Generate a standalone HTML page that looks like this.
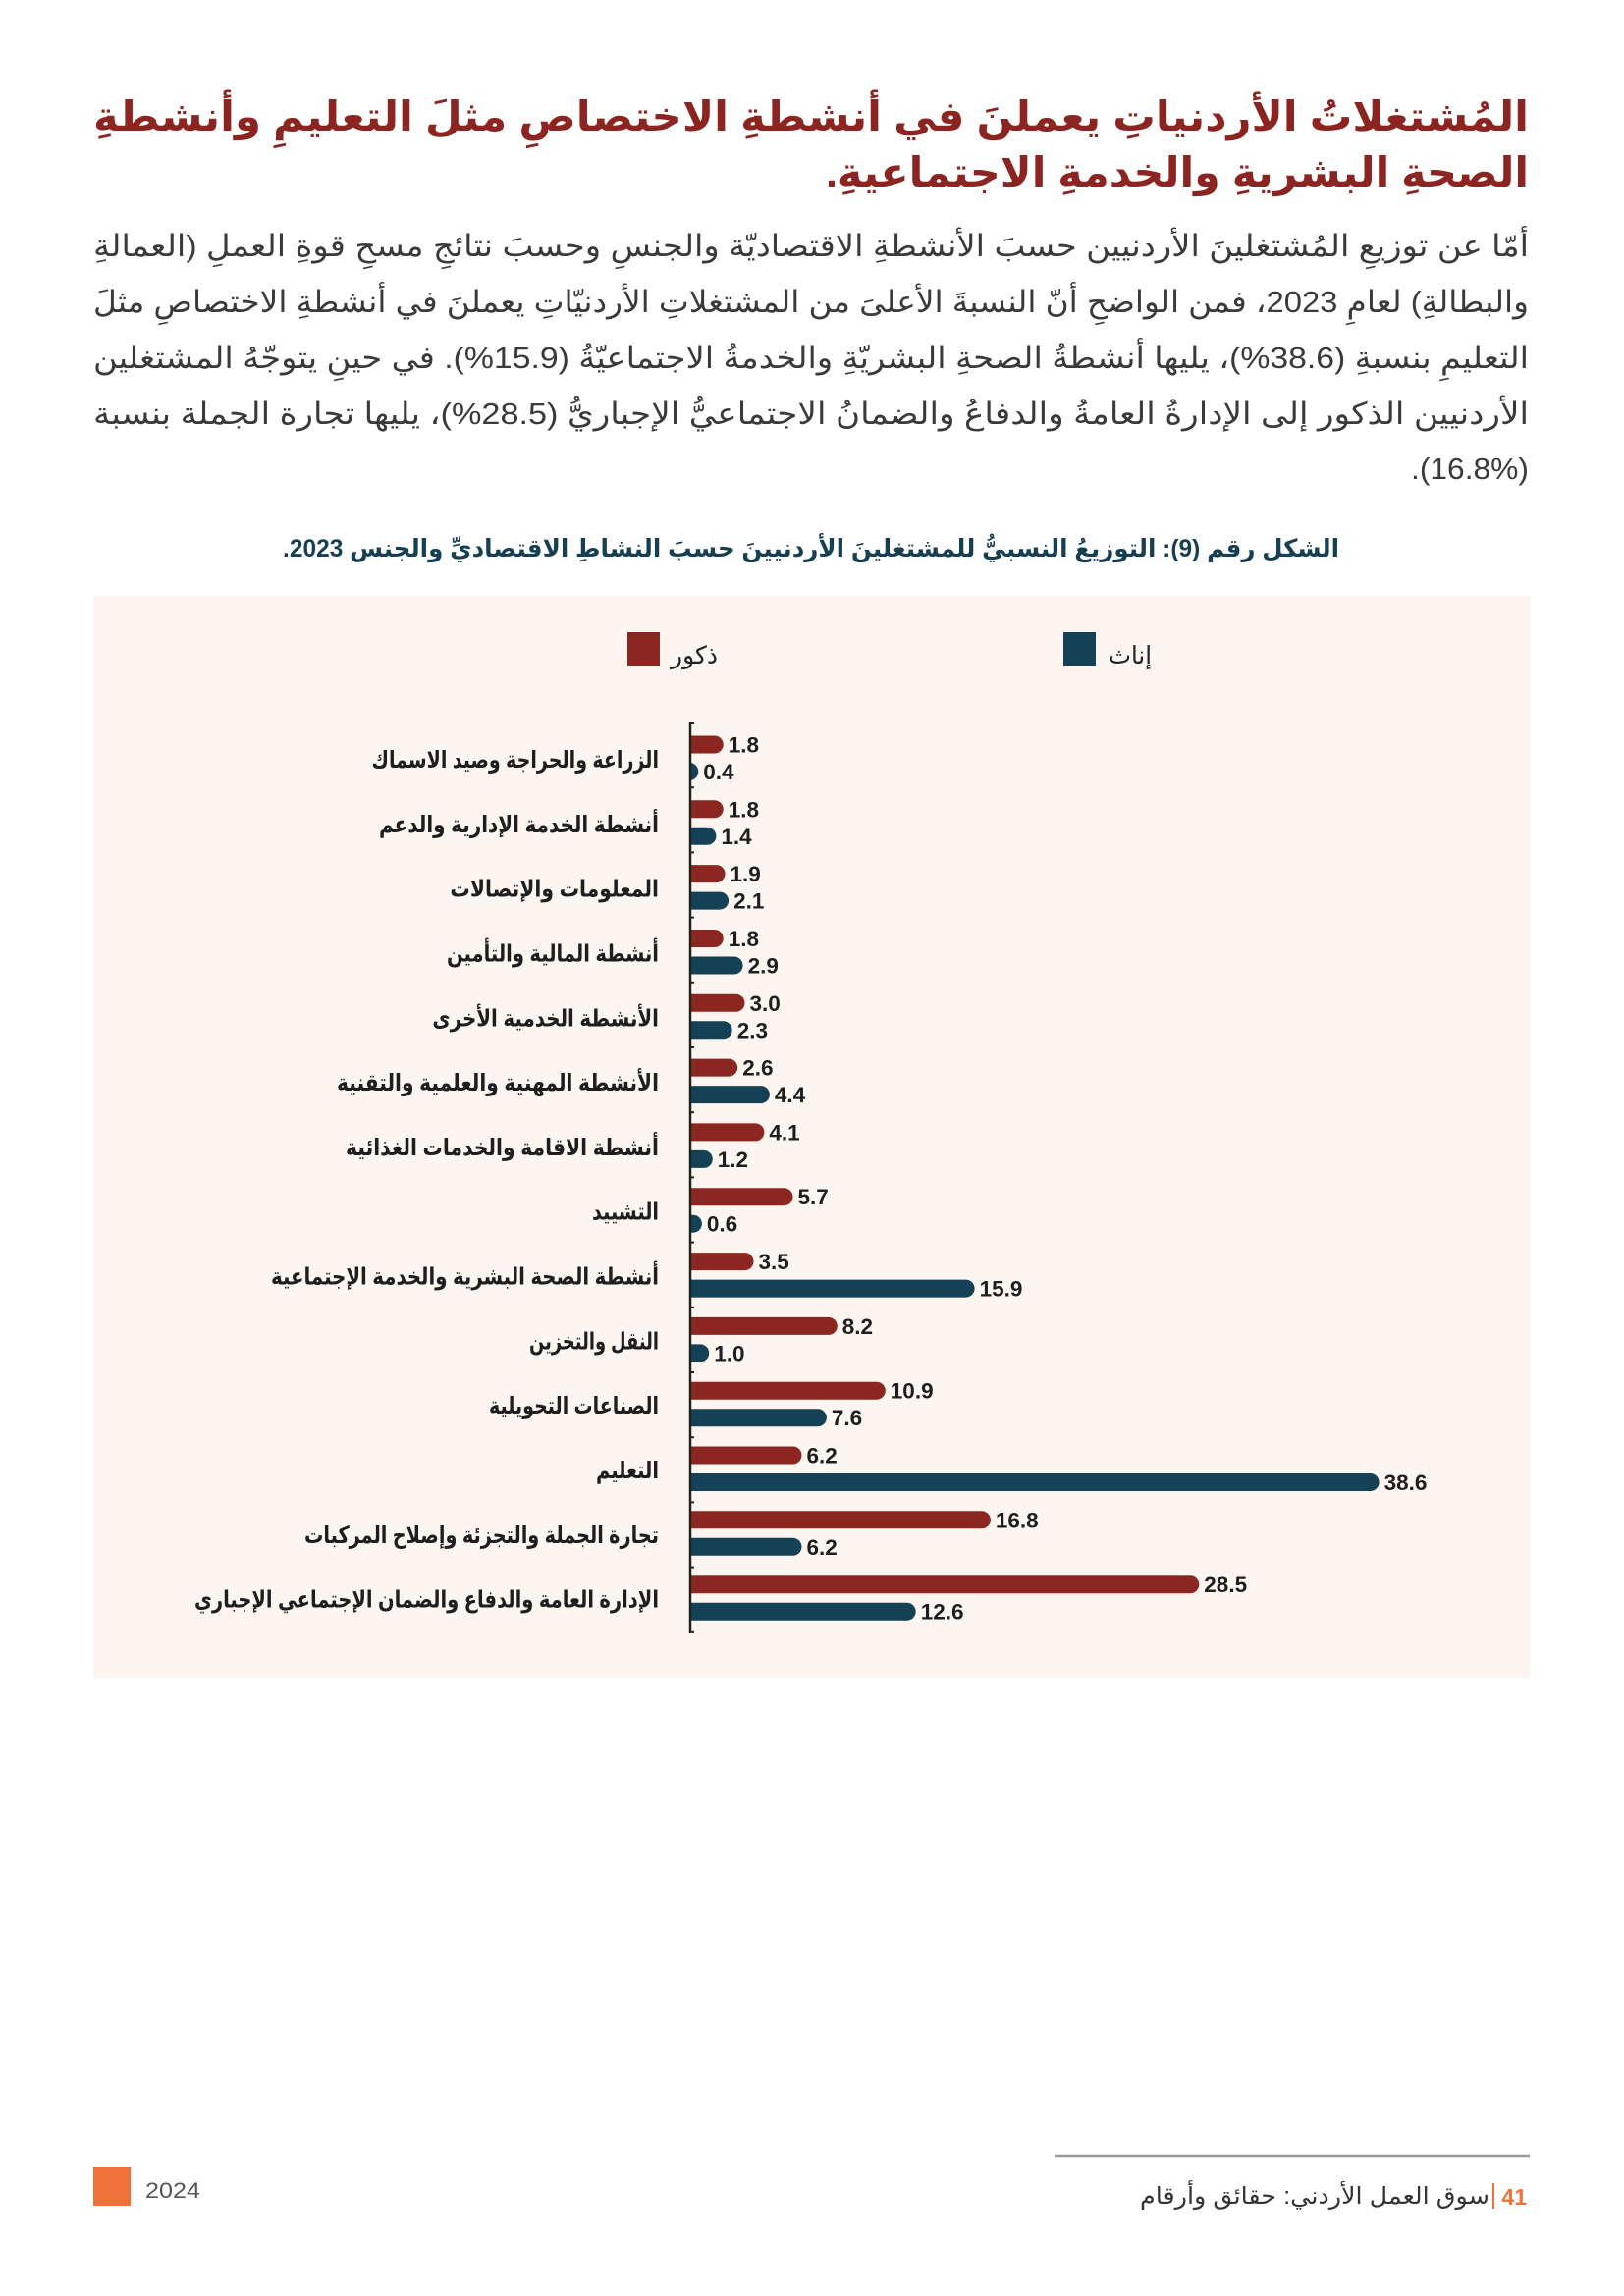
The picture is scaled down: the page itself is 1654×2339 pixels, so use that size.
<!DOCTYPE html>
<html lang="ar">
<head>
<meta charset="utf-8">
<style>
html,body{margin:0;padding:0;background:#ffffff;}
svg{display:block;}
</style>
</head>
<body>
<svg width="1654" height="2339" viewBox="0 0 1654 2339" xmlns="http://www.w3.org/2000/svg">
<defs>
<clipPath id="cl"><rect x="704" y="0" width="950" height="2339"/></clipPath>
</defs>
<rect x="0" y="0" width="1654" height="2339" fill="#ffffff"/>

<!-- Title -->
<g font-family="Liberation Sans, DejaVu Sans, sans-serif" font-weight="bold" font-size="42" fill="#8C2421" direction="rtl" text-anchor="middle">
<text x="826" y="133" textLength="1462" lengthAdjust="spacingAndGlyphs">المُشتغلاتُ الأردنياتِ يعملنَ في أنشطةِ الاختصاصِ مثلَ التعليمِ وأنشطةِ</text>
<text x="1199" y="190" textLength="716" lengthAdjust="spacingAndGlyphs">الصحةِ البشريةِ والخدمةِ الاجتماعيةِ.</text>
</g>

<!-- Paragraph -->
<g font-family="Liberation Sans, DejaVu Sans, sans-serif" font-size="31" fill="#3a3a3a" direction="rtl" text-anchor="middle">
<text x="826" y="261" textLength="1462" lengthAdjust="spacingAndGlyphs">أمّا عن توزيعِ المُشتغلينَ الأردنيين حسبَ الأنشطةِ الاقتصاديّة والجنسِ وحسبَ نتائجِ مسحِ قوةِ العملِ (العمالةِ</text>
<text x="826" y="318" textLength="1462" lengthAdjust="spacingAndGlyphs">والبطالةِ) لعامِ 2023، فمن الواضحِ أنّ النسبةَ الأعلىَ من المشتغلاتِ الأردنيّاتِ يعملنَ في أنشطةِ الاختصاصِ مثلَ</text>
<text x="826" y="375" textLength="1462" lengthAdjust="spacingAndGlyphs">التعليمِ بنسبةِ (38.6%)، يليها أنشطةُ الصحةِ البشريّةِ والخدمةُ الاجتماعيّةُ (15.9%). في حينِ يتوجّهُ المشتغلين</text>
<text x="826" y="432" textLength="1462" lengthAdjust="spacingAndGlyphs">الأردنيين الذكور إلى الإدارةُ العامةُ والدفاعُ والضمانُ الاجتماعيُّ الإجباريُّ (28.5%)، يليها تجارة الجملة بنسبة</text>
<text x="1497" y="488" textLength="120" lengthAdjust="spacingAndGlyphs">(16.8%).</text>
</g>

<!-- Caption -->
<text x="826" y="567" font-family="Liberation Sans, DejaVu Sans, sans-serif" font-weight="bold" font-size="25" fill="#173F52" direction="rtl" text-anchor="middle" textLength="1076" lengthAdjust="spacingAndGlyphs">الشكل رقم (9): التوزيعُ النسبيُّ للمشتغلينَ الأردنيينَ حسبَ النشاطِ الاقتصاديِّ والجنس 2023.</text>

<!-- Panel -->
<rect x="95" y="607" width="1464" height="1102" fill="#FCF5F0"/>

<!-- Legend -->
<rect x="639" y="644" width="33" height="34" fill="#8C2621"/>
<text x="707" y="676" font-family="Liberation Sans, DejaVu Sans, sans-serif" font-size="25" fill="#222" direction="rtl" text-anchor="middle" textLength="48" lengthAdjust="spacingAndGlyphs">ذكور</text>
<rect x="1083" y="644" width="33" height="34" fill="#154157"/>
<text x="1151" y="676" font-family="Liberation Sans, DejaVu Sans, sans-serif" font-size="25" fill="#222" direction="rtl" text-anchor="middle" textLength="44" lengthAdjust="spacingAndGlyphs">إناث</text>

<!-- Category labels -->
<g font-family="Liberation Sans, DejaVu Sans, sans-serif" font-weight="bold" font-size="24" fill="#1e1e1e" direction="rtl" text-anchor="middle">
<text x="524.75" y="782" textLength="292.5" lengthAdjust="spacingAndGlyphs">الزراعة والحراجة وصيد الاسماك</text>
<text x="528.5" y="847.8" textLength="285" lengthAdjust="spacingAndGlyphs">أنشطة الخدمة الإدارية والدعم</text>
<text x="564.7" y="913.6" textLength="212.6" lengthAdjust="spacingAndGlyphs">المعلومات والإتصالات</text>
<text x="563" y="979.5" textLength="216" lengthAdjust="spacingAndGlyphs">أنشطة المالية والتأمين</text>
<text x="555.7" y="1045.3" textLength="230.6" lengthAdjust="spacingAndGlyphs">الأنشطة الخدمية الأخرى</text>
<text x="507" y="1111.1" textLength="328" lengthAdjust="spacingAndGlyphs">الأنشطة المهنية والعلمية والتقنية</text>
<text x="511.5" y="1176.9" textLength="319" lengthAdjust="spacingAndGlyphs">أنشطة الاقامة والخدمات الغذائية</text>
<text x="637" y="1242.7" textLength="68" lengthAdjust="spacingAndGlyphs">التشييد</text>
<text x="473.5" y="1308.6" textLength="395" lengthAdjust="spacingAndGlyphs">أنشطة الصحة البشرية والخدمة الإجتماعية</text>
<text x="605" y="1374.4" textLength="132" lengthAdjust="spacingAndGlyphs">النقل والتخزين</text>
<text x="584.5" y="1440.2" textLength="173" lengthAdjust="spacingAndGlyphs">الصناعات التحويلية</text>
<text x="639" y="1506" textLength="64" lengthAdjust="spacingAndGlyphs">التعليم</text>
<text x="490.5" y="1571.8" textLength="361" lengthAdjust="spacingAndGlyphs">تجارة الجملة والتجزئة وإصلاح المركبات</text>
<text x="434.5" y="1637.7" textLength="473" lengthAdjust="spacingAndGlyphs">الإدارة العامة والدفاع والضمان الإجتماعي الإجباري</text>
</g>

<!-- Bars -->
<g clip-path="url(#cl)">
<g fill="#8C2621">
<rect x="684" y="749.5" width="52.7" height="18" rx="9"/>
<rect x="684" y="815.3" width="52.7" height="18" rx="9"/>
<rect x="684" y="881.1" width="54.5" height="18" rx="9"/>
<rect x="684" y="947.0" width="52.7" height="18" rx="9"/>
<rect x="684" y="1012.8" width="74.5" height="18" rx="9"/>
<rect x="684" y="1078.6" width="67.2" height="18" rx="9"/>
<rect x="684" y="1144.4" width="94.4" height="18" rx="9"/>
<rect x="684" y="1210.2" width="123.5" height="18" rx="9"/>
<rect x="684" y="1276.1" width="83.5" height="18" rx="9"/>
<rect x="684" y="1341.9" width="168.8" height="18" rx="9"/>
<rect x="684" y="1407.7" width="217.8" height="18" rx="9"/>
<rect x="684" y="1473.5" width="132.5" height="18" rx="9"/>
<rect x="684" y="1539.3" width="324.9" height="18" rx="9"/>
<rect x="684" y="1605.2" width="537.3" height="18" rx="9"/>
</g>
<g fill="#154157">
<rect x="684" y="777" width="27.3" height="18" rx="9"/>
<rect x="684" y="842.8" width="45.4" height="18" rx="9"/>
<rect x="684" y="908.6" width="58.1" height="18" rx="9"/>
<rect x="684" y="974.5" width="72.6" height="18" rx="9"/>
<rect x="684" y="1040.3" width="61.7" height="18" rx="9"/>
<rect x="684" y="1106.1" width="99.9" height="18" rx="9"/>
<rect x="684" y="1171.9" width="41.8" height="18" rx="9"/>
<rect x="684" y="1237.7" width="30.9" height="18" rx="9"/>
<rect x="684" y="1303.6" width="308.6" height="18" rx="9"/>
<rect x="684" y="1369.4" width="38.2" height="18" rx="9"/>
<rect x="684" y="1435.2" width="157.9" height="18" rx="9"/>
<rect x="684" y="1501.0" width="720.6" height="18" rx="9"/>
<rect x="684" y="1566.8" width="132.5" height="18" rx="9"/>
<rect x="684" y="1632.7" width="248.7" height="18" rx="9"/>
</g>
</g>

<!-- Axis -->
<g stroke="#222" stroke-width="2.5">
<line x1="703" y1="736" x2="703" y2="1664"/>
</g>
<g stroke="#222" stroke-width="2">
<line x1="703" y1="737" x2="707" y2="737"/>
<line x1="703" y1="802.2" x2="707" y2="802.2"/>
<line x1="703" y1="868.4" x2="707" y2="868.4"/>
<line x1="703" y1="934.6" x2="707" y2="934.6"/>
<line x1="703" y1="1000.8" x2="707" y2="1000.8"/>
<line x1="703" y1="1067" x2="707" y2="1067"/>
<line x1="703" y1="1133.2" x2="707" y2="1133.2"/>
<line x1="703" y1="1199.4" x2="707" y2="1199.4"/>
<line x1="703" y1="1265.6" x2="707" y2="1265.6"/>
<line x1="703" y1="1331.8" x2="707" y2="1331.8"/>
<line x1="703" y1="1398" x2="707" y2="1398"/>
<line x1="703" y1="1464.2" x2="707" y2="1464.2"/>
<line x1="703" y1="1530.4" x2="707" y2="1530.4"/>
<line x1="703" y1="1596.6" x2="707" y2="1596.6"/>
<line x1="703" y1="1662.8" x2="707" y2="1662.8"/>
</g>

<!-- Value labels -->
<g font-family="Liberation Sans, DejaVu Sans, sans-serif" font-weight="bold" font-size="22.5" fill="#1e1e1e">
<text x="741.7" y="766.5">1.8</text>
<text x="716.3" y="794">0.4</text>
<text x="741.7" y="832.3">1.8</text>
<text x="734.4" y="859.8">1.4</text>
<text x="743.5" y="898.1">1.9</text>
<text x="747.1" y="925.6">2.1</text>
<text x="741.7" y="964">1.8</text>
<text x="761.6" y="991.5">2.9</text>
<text x="763.5" y="1029.8">3.0</text>
<text x="750.7" y="1057.3">2.3</text>
<text x="756.2" y="1095.6">2.6</text>
<text x="788.9" y="1123.1">4.4</text>
<text x="783.4" y="1161.4">4.1</text>
<text x="730.8" y="1188.9">1.2</text>
<text x="812.5" y="1227.2">5.7</text>
<text x="719.9" y="1254.7">0.6</text>
<text x="772.5" y="1293.1">3.5</text>
<text x="997.6" y="1320.6">15.9</text>
<text x="857.8" y="1358.9">8.2</text>
<text x="727.2" y="1386.4">1.0</text>
<text x="906.8" y="1424.7">10.9</text>
<text x="846.9" y="1452.2">7.6</text>
<text x="821.5" y="1490.5">6.2</text>
<text x="1409.6" y="1518">38.6</text>
<text x="1013.9" y="1556.3">16.8</text>
<text x="821.5" y="1583.8">6.2</text>
<text x="1226.3" y="1622.2">28.5</text>
<text x="937.7" y="1649.7">12.6</text>
</g>

<!-- Footer -->
<line x1="1074" y1="2196" x2="1558" y2="2196" stroke="#9a9a9a" stroke-width="2.5"/>
<rect x="95" y="2208" width="38" height="39" fill="#F0703A"/>
<text x="148" y="2239" font-family="Liberation Sans, DejaVu Sans, sans-serif" font-size="22" fill="#555" textLength="56" lengthAdjust="spacingAndGlyphs">2024</text>
<text x="1555" y="2246" font-family="Liberation Sans, DejaVu Sans, sans-serif" font-weight="bold" font-size="23" fill="#F0703A" text-anchor="end">41</text>
<line x1="1521" y1="2224" x2="1521" y2="2250" stroke="#F0703A" stroke-width="2"/>
<text x="1339" y="2245" font-family="Liberation Sans, DejaVu Sans, sans-serif" font-size="24" fill="#333" direction="rtl" text-anchor="middle" textLength="356" lengthAdjust="spacingAndGlyphs">سوق العمل الأردني: حقائق وأرقام</text>
</svg>
</body>
</html>
